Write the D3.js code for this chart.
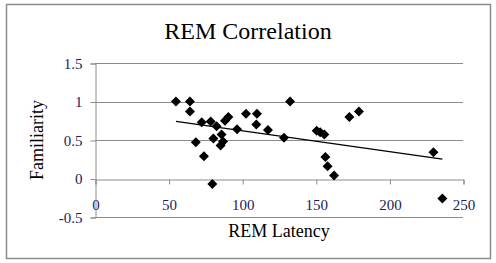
<!DOCTYPE html>
<html>
<head>
	<meta charset="utf-8">
	<title>REM Correlation</title>
	<script src="https://d3js.org/d3.v7.min.js"></script>
	<style>
		body { margin: 0; background: white; }
		text { font-family: "Liberation Serif", "Times New Roman", serif; }
	</style>
</head>
<body>
	<script>
		var width = 496, height = 263;

		// REM latency (x) and familiarity (y) per subject
		var latency = [55, 64.5, 64.5, 68.5, 72.5, 74, 78.6, 79.7, 80.4, 82.6, 86, 87, 85.3, 88.3, 90.6,
			96.5, 102.6, 110, 109.6, 117.5, 128.4, 132.5, 150.6, 153, 155.8, 156.5, 158, 162.4, 172.8, 179.3, 229.9, 236];
		var familiarity = [1.0, 1.0, 0.87, 0.47, 0.73, 0.29, 0.74, -0.07, 0.52, 0.68, 0.57, 0.48, 0.43, 0.75, 0.80,
			0.64, 0.84, 0.84, 0.70, 0.63, 0.53, 1.0, 0.62, 0.60, 0.57, 0.28, 0.16, 0.04, 0.80, 0.87, 0.34, -0.26];
		var xTicks = [0, 50, 100, 150, 200, 250];
		var yTicks = [-0.5, 0, 0.5, 1, 1.5];

		var points = latency.map(function(d, i){ return [d, familiarity[i]]; });

		var x = d3.scaleLinear().domain([0, 250]).range([95, 463]);
		var y = d3.scaleLinear().domain([-0.5, 1.5]).range([217, 63]);

		var svg = d3.select("body").append("svg").attr("width", width).attr("height", height);

		// outer frame
		svg.append("rect").attr("x", 6.5).attr("y", 4.5).attr("width", 484).attr("height", 254)
			.attr("fill", "white").attr("stroke", "#8c8c8c").attr("stroke-width", 1.5);

		svg.append("text").attr("x", 248).attr("y", 39).attr("text-anchor", "middle")
			.attr("font-size", 24).text("REM Correlation");

		// horizontal gridlines
		svg.append("g").selectAll("line").data(yTicks.filter(function(d){ return d != 0; }))
			.enter().append("line")
			.attr("x1", x(0)).attr("x2", x(250))
			.attr("y1", function(d){ return Math.round(y(d)) + 0.5; })
			.attr("y2", function(d){ return Math.round(y(d)) + 0.5; })
			.attr("stroke", "#8c8c8c");

		// y axis
		var yAxis = svg.append("g").attr("transform", "translate(" + (x(0) + 0.5) + ",0.5)")
			.call(d3.axisLeft(y).tickValues(yTicks).tickSize(5).tickPadding(8)
				.tickFormat(function(d){ return d; }));
		// x axis crosses at y = 0
		var xAxis = svg.append("g").attr("transform", "translate(0.5," + (Math.round(y(0)) + 0.5) + ")")
			.call(d3.axisBottom(x).tickValues(xTicks).tickSize(5).tickPadding(15));

		[yAxis, xAxis].forEach(function(a){
			a.attr("font-family", null).attr("font-size", null);
			a.select(".domain").attr("stroke", "#8c8c8c");
			a.selectAll(".tick line").attr("stroke", "#8c8c8c");
			a.selectAll("text")
				.style("font-family", "'Liberation Serif', serif")
				.style("font-size", "15px")
				.attr("fill", "#1c1c5a");
		});

		// linear trendline
		var mx = d3.mean(latency), my = d3.mean(familiarity);
		var slope = d3.sum(points, function(p){ return (p[0] - mx) * (p[1] - my); }) /
			d3.sum(latency, function(d){ return (d - mx) * (d - mx); });
		var icept = my - slope * mx;
		var x0 = d3.min(latency), x1 = d3.max(latency);
		svg.append("line")
			.attr("x1", x(x0)).attr("y1", y(icept + slope * x0))
			.attr("x2", x(x1)).attr("y2", y(icept + slope * x1))
			.attr("stroke", "black").attr("stroke-width", 1.2);

		svg.append("g").selectAll("path").data(points).enter().append("path")
			.attr("transform", function(d){ return "translate(" + x(d[0]) + "," + y(d[1]) + ")"; })
			.attr("d", "M0,-5L5,0L0,5L-5,0Z")
			.attr("fill", "black");

		svg.append("text").attr("x", x(125)).attr("y", 237).attr("text-anchor", "middle")
			.attr("font-size", 18).text("REM Latency");
		svg.append("text").attr("transform", "translate(43,140) rotate(-90)").attr("text-anchor", "middle")
			.attr("font-size", 18).text("Familiarity");
	</script>
</body>
</html>
